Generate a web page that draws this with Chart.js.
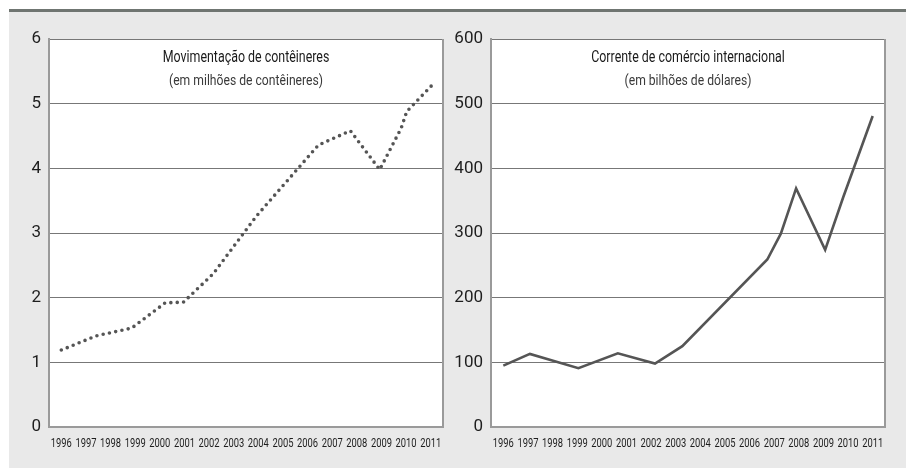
<!DOCTYPE html>
<html>
<head>
<meta charset="utf-8">
<script src="https://cdn.jsdelivr.net/npm/chart.js@4.4.1/dist/chart.umd.min.js"></script>
<style>
  html, body { margin: 0; padding: 0; background: #fff; }
  body { width: 906px; height: 469px; position: relative; overflow: hidden; }
  #panel {
    position: absolute; left: 9px; top: 9px; width: 897px; height: 459px;
    background: #e9e9e9; border-top: 3px solid #6f7571; box-sizing: border-box;
  }
  canvas { position: absolute; top: 12px; }
  #left { left: 9px; }
  #right { left: 453px; }
</style>
</head>
<body>
<div id="panel"></div>
<canvas id="left" width="444" height="457"></canvas>
<canvas id="right" width="453" height="457"></canvas>
<script>
// tick labels on the x axis
const years = [1996, 1997, 1998, 1999, 2000, 2001, 2002, 2003, 2004, 2005, 2006, 2007, 2008, 2009, 2010, 2011];

// container traffic (millions of containers)
const containerYears = [1996, 1997.42, 1998.86, 2000.22, 2000.96, 2002.17, 2003.92, 2006.44, 2007.74, 2008.93, 2009.8, 2010.03, 2011.04];
const containerValues = [1.19, 1.41, 1.53, 1.92, 1.93, 2.37, 3.26, 4.36, 4.58, 3.98, 4.62, 4.88, 5.28];
const containerTicks = [0, 1, 2, 3, 4, 5, 6];

// international trade (billions of dollars)
const tradeYears = [1996, 1997.08, 1999.05, 2000.65, 2002.16, 2003.27, 2006.72, 2007.27, 2007.89, 2009.07, 2009.81, 2011];
const tradeValues = [95, 113, 91, 114, 98, 125, 259, 299, 369, 274, 356, 481];
const tradeTicks = [0, 100, 200, 300, 400, 500, 600];

// no condensed face installed, so squeeze Roboto horizontally
function narrowText(ctx, text, x, y, font, squeeze, color) {
  ctx.save();
  ctx.font = font + " Roboto";
  ctx.fillStyle = color;
  ctx.textAlign = "center";
  ctx.textBaseline = "middle";
  ctx.translate(x, y);
  ctx.scale(squeeze, 1);
  ctx.fillText(text, 0, 0);
  ctx.restore();
}

const panelPlugin = {
  id: "panel",
  beforeDraw(chart) {
    const { ctx, chartArea: a } = chart;
    ctx.save();
    ctx.fillStyle = "#fff";
    ctx.fillRect(a.left, a.top, a.right - a.left, a.bottom - a.top);
    ctx.restore();
  },
  afterDraw(chart, args, opts) {
    const { ctx, chartArea: a } = chart;
    ctx.save();
    ctx.strokeStyle = "#9a9a9a";
    ctx.lineWidth = 2;
    ctx.beginPath();
    ctx.moveTo(a.right, a.top);
    ctx.lineTo(a.right, a.bottom + 1);
    ctx.stroke();
    ctx.restore();

    const cx = (a.left + a.right) / 2;
    narrowText(ctx, opts.title, cx, a.top + 19, "17px", 0.73, "#1a1a1a");
    narrowText(ctx, opts.subtitle, cx, a.top + 42, "15px", 0.81, "#3a3a3a");

    // year labels under the x axis, at the scale's own positions
    const xs = chart.scales.x;
    years.forEach((yr) => {
      narrowText(ctx, String(yr), xs.getPixelForValue(yr), a.bottom + 17, "13px", 0.72, "#1e1e1e");
    });
  }
};

function makeChart(id, xs, ys, ticks, lineStyle, yWidth, rightPad, title, subtitle) {
  return new Chart(document.getElementById(id), {
    type: "line",
    data: {
      datasets: [{
        data: xs.map((x, i) => ({ x: x, y: ys[i] })),
        borderColor: "#555",
        pointRadius: 0,
        tension: 0,
        ...lineStyle
      }]
    },
    options: {
      responsive: false,
      animation: false,
      devicePixelRatio: 1,
      layout: { padding: { top: 27, right: rightPad, left: 0, bottom: 0 } },
      plugins: {
        legend: { display: false },
        tooltip: { enabled: false },
        panel: { title: title, subtitle: subtitle }
      },
      scales: {
        x: {
          type: "linear",
          min: years[0] - 0.5,
          max: years[years.length - 1] + 0.5,
          afterBuildTicks: (s) => { s.ticks = years.map((v) => ({ value: v })); },
          afterFit: (s) => { s.height = 42; },
          grid: { display: false },
          border: { color: "#9a9a9a", width: 2 },
          ticks: { display: false }
        },
        y: {
          min: ticks[0],
          max: ticks[ticks.length - 1],
          afterBuildTicks: (s) => { s.ticks = ticks.map((v) => ({ value: v })); },
          afterFit: (s) => { s.width = yWidth; },
          grid: { color: "#777", lineWidth: 1, drawTicks: false },
          border: { color: "#9a9a9a", width: 2 },
          ticks: {
            padding: 8,
            color: "#1e1e1e",
            font: { family: "Roboto", size: 17 }
          }
        }
      }
    },
    plugins: [panelPlugin]
  });
}

makeChart("left", containerYears, containerValues, containerTicks,
  { borderWidth: 3.6, borderDash: [0, 6.4], borderCapStyle: "round", borderJoinStyle: "round" },
  40, 10, "Movimentação de contêineres", "(em milhões de contêineres)");

makeChart("right", tradeYears, tradeValues, tradeTicks,
  { borderWidth: 2.6, borderJoinStyle: "miter" },
  38, 21, "Corrente de comércio internacional", "(em bilhões de dólares)");
</script>
</body>
</html>
